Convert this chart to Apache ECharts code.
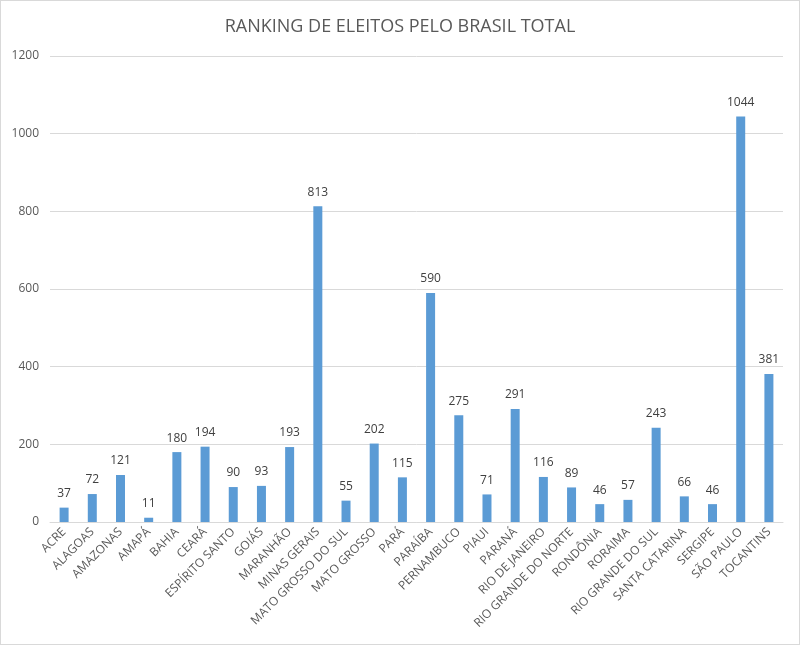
<!DOCTYPE html>
<html><head><meta charset="utf-8">
<script src="https://cdn.jsdelivr.net/npm/echarts@6/dist/echarts.min.js"></script>
<style>html,body{margin:0;padding:0;background:#fff}#c{width:800px;height:645px;box-sizing:border-box;border:1px solid #d9d9d9}</style>
</head><body><div id="c"></div>
<script>
const categories = ["ACRE","ALAGOAS","AMAZONAS","AMAPÁ","BAHIA","CEARÁ","ESPÍRITO SANTO","GOIÁS","MARANHÃO","MINAS GERAIS","MATO GROSSO DO SUL","MATO GROSSO","PARÁ","PARAÍBA","PERNAMBUCO","PIAUI","PARANÁ","RIO DE JANEIRO","RIO GRANDE DO NORTE","RONDÔNIA","RORAIMA","RIO GRANDE DO SUL","SANTA CATARINA","SERGIPE","SÃO PAULO","TOCANTINS"];
const values = [37,72,121,11,180,194,90,93,193,813,55,202,115,590,275,71,291,116,89,46,57,243,66,46,1044,381];
const yTicks = [0,200,400,600,800,1000,1200];
const chart = echarts.init(document.getElementById('c'));
const font = "'Open Sans', 'Liberation Sans', sans-serif";
chart.setOption({
  animation:false,
  title:{text:"RANKING DE ELEITOS PELO BRASIL TOTAL",left:'center',top:12,textStyle:{fontFamily:font,fontSize:18,fontWeight:'normal',color:'#595959'}},
  grid:{left:49,right:16,top:55,bottom:122,containLabel:false},
  xAxis:{type:'category',data:categories,axisTick:{show:false},axisLine:{lineStyle:{color:'#d9d9d9'}},
    axisLabel:{rotate:45,interval:0,fontFamily:font,fontSize:12,color:'#595959',margin:8}},
  yAxis:{type:'value',min:yTicks[0],max:yTicks[yTicks.length-1],interval:200,
    axisLine:{show:false},axisTick:{show:false},
    splitLine:{lineStyle:{color:'#d9d9d9'}},
    axisLabel:{fontFamily:font,fontSize:12,color:'#595959',margin:11,formatter:v=>String(v)}},
  series:[{type:'bar',data:values,barWidth:9,itemStyle:{color:'#5B9BD5'},
    label:{show:true,position:'top',distance:8,fontFamily:font,fontSize:12,color:'#404040'}}]
});
</script></body></html>
